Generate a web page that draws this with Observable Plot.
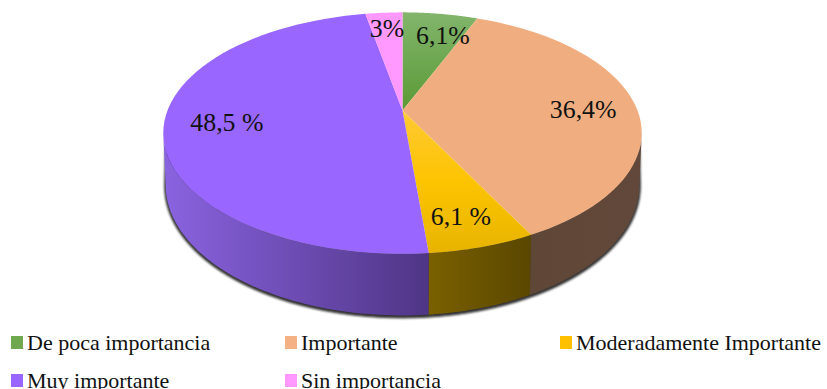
<!DOCTYPE html>
<html>
<head>
<meta charset="utf-8">
<script src="https://cdn.jsdelivr.net/npm/d3@7"></script>
<script src="https://cdn.jsdelivr.net/npm/@observablehq/plot@0.6"></script>
<style>
  html, body { margin: 0; padding: 0; background: #fff; overflow: hidden; }
  #chart svg { display: block; }
  #legend {
    position: relative; height: 59px; overflow: hidden;
    font: 22px "Liberation Serif", serif; color: #111;
  }
  #legend div { position: absolute; white-space: nowrap; line-height: 22px; }
  #legend i { position: absolute; left: -16px; top: 4px; width: 12px; height: 13px; }
</style>
</head>
<body>
<div id="chart"></div>
<div id="legend"></div>
<script>
// Survey shares, clockwise from twelve o'clock
const categories = ["De poca importancia", "Importante", "Moderadamente Importante", "Muy importante", "Sin importancia"];
const shares = [6.1, 36.4, 6.1, 48.5, 3];
const valueLabels = ["6,1%", "36,4%", "6,1 %", "48,5 %", "3%"];

// Colours of the top faces, legend swatches and outer wall
const topFills = ["url(#greenTop)", "#f0ae80", "url(#yellowTop)", "#9966ff", "#ff99ff"];
const swatchFills = ["#6fa84f", "#f4b183", "#ffc000", "#9966ff", "#ff99ff"];
const wallLeft = ["#5d7a44", "#5f4737", "#7a6000", "#8a63e0", "#7a4a7a"];
const wallRight = ["#5d7a44", "#62483a", "#5a4700", "#4f3585", "#7a4a7a"];

// Label placement: fraction of the radius and turn away from the slice's middle
const labelRadius = [0.757, 0.77, 0.81, 0.74, 0.81];
const labelTurn = [4, 2, 1, 0, 0];
const legendLeft = [27, 301, 576, 27, 301];
const legendTop = [2, 2, 2, 40, 40];

// Perspective of the tilted disc; the lower disc sits a little narrower
const perspective = 0.187;
const depth = 0.43;
const lowerScale = 0.99;
const project = (deg, r = 1, drop = 0, squeeze = 1) => {
  const t = deg * Math.PI / 180, u = r * Math.sin(t), v = r * Math.cos(t);
  const w = 1 + perspective * v;
  return {x: squeeze * u / w, y: (v - drop) / w};
};

// Cumulative start and end angles of every slice
const total = d3.sum(shares);
let running = 0;
const slices = shares.map((value, i) => {
  const a0 = running / total * 360;
  running += value;
  return {i, a0, a1: running / total * 360};
});

const arcSteps = (a0, a1) => d3.range(0, 61).map(k => a0 + (a1 - a0) * k / 60);

const topOutline = s => [
  project(0, 0),
  ...arcSteps(s.a0, s.a1).map(a => project(a))
];

// The visible wall runs between the two silhouette angles of the disc
const wallStart = Math.acos(-perspective) * 180 / Math.PI;
const wallEnd = 360 - wallStart;
const walls = slices
  .map(s => ({s, from: Math.max(s.a0, wallStart), to: Math.min(s.a1, wallEnd)}))
  .filter(w => w.to > w.from)
  .map(({s, from, to}) => ({
    i: s.i,
    points: [
      ...arcSteps(from, to).map(a => project(a)),
      ...arcSteps(to, from).map(a => project(a, 1, depth, lowerScale))
    ]
  }));

// Shadow hugging the lower rim of the wall
const shadowOutline = [
  ...arcSteps(wallStart, wallEnd).map(a => project(a, 1, 0, lowerScale)),
  ...arcSteps(wallEnd, wallStart).map(a => project(a, 1.004, depth + 0.012, lowerScale))
];

const labels = slices.map(s => ({
  text: valueLabels[s.i],
  ...project((s.a0 + s.a1) / 2 + labelTurn[s.i], labelRadius[s.i])
}));

const gradients = () => {
  const defs = d3.create("svg:defs");
  const add = (id, stops, horizontal) => {
    const g = defs.append("linearGradient").attr("id", id)
      .attr("x1", 0).attr("y1", 0)
      .attr("x2", horizontal ? 1 : 0).attr("y2", horizontal ? 0 : 1);
    stops.forEach(([o, c]) => g.append("stop").attr("offset", o).attr("stop-color", c));
  };
  add("greenTop", [[0, "#82b56c"], [1, "#5a9a35"]]);
  add("yellowTop", [[0, "#ffc935"], [0.5, "#fcc400"], [1, "#e8b400"]]);
  walls.forEach(w => add(`wall${w.i}`, [[0, wallLeft[w.i]], [1, wallRight[w.i]]], true));
  return defs.node();
};

const chart = Plot.plot({
  width: 827,
  height: 330,
  margin: 0,
  x: {domain: [-1, 1], range: [167, 637], axis: null},
  y: {domain: [-1, 1], range: [226.5, -6.5], axis: null},
  marks: [
    gradients,
    Plot.line(shadowOutline, {x: "x", y: "y", fill: "#333", stroke: "#333", strokeWidth: 1, curve: "linear-closed", imageFilter: "blur(1.2px)"}),
    ...walls.map(w => Plot.line(w.points, {x: "x", y: "y", fill: `url(#wall${w.i})`, stroke: "none", curve: "linear-closed"})),
    ...slices.map(s => Plot.line(topOutline(s), {x: "x", y: "y", fill: topFills[s.i], stroke: "none", curve: "linear-closed"})),
    Plot.text(labels, {
      x: "x", y: "y", text: "text",
      fontFamily: "Liberation Serif", fontSize: 25.8, fill: "#111"
    })
  ]
});
document.getElementById("chart").append(chart);

// Legend below the chart
const legend = document.getElementById("legend");
categories.forEach((name, i) => {
  const row = document.createElement("div");
  row.style.left = legendLeft[i] + "px";
  row.style.top = legendTop[i] + "px";
  row.textContent = name;
  const box = document.createElement("i");
  box.style.background = swatchFills[i];
  row.append(box);
  legend.append(row);
});
</script>
</body>
</html>
